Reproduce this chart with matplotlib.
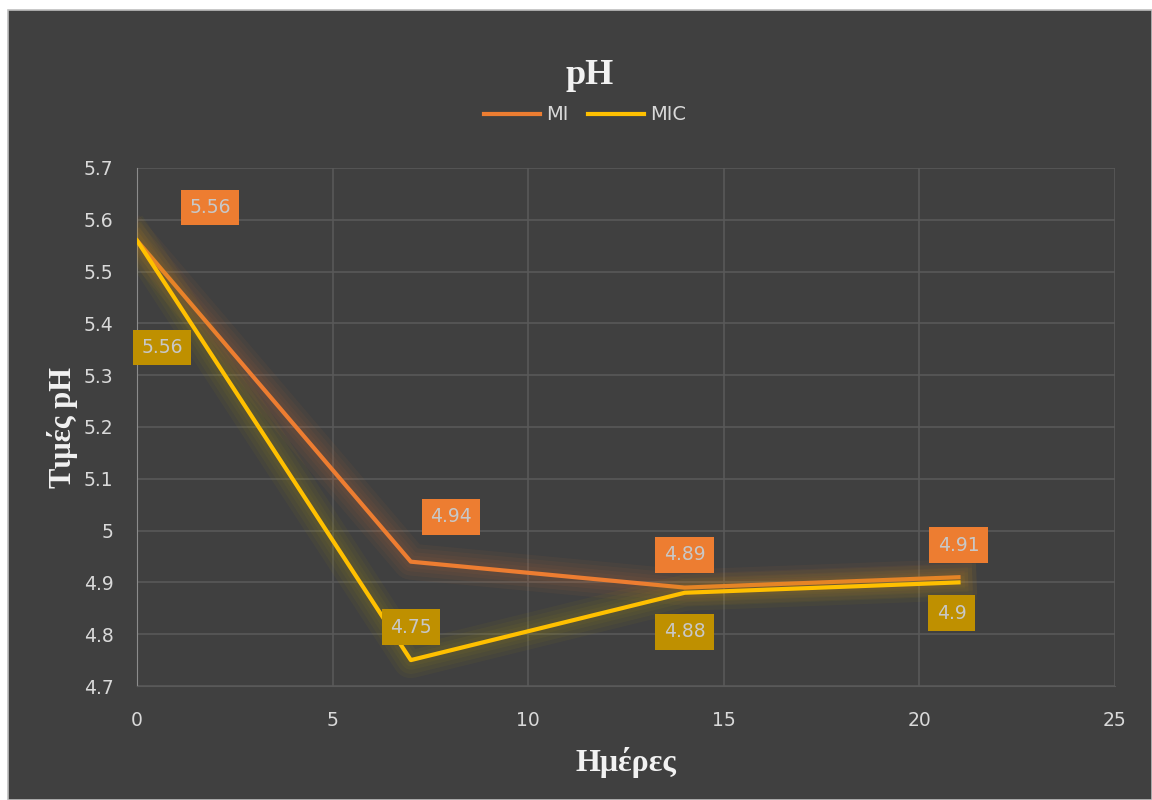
import matplotlib.pyplot as plt
import matplotlib.patheffects as pe
from matplotlib.patches import Rectangle
from matplotlib.ticker import FuncFormatter, MultipleLocator

# data
days = [0, 7, 14, 21]
mi = [5.56, 4.94, 4.89, 4.91]
mic = [5.56, 4.75, 4.88, 4.90]

# label offsets in pixels (dx, dy), screen up is positive
mi_off = [(73, 33), (40, 45), (0, 33), (0, 32)]
mic_off = [(25, -107), (0, 33), (0, -39), (-7, -31)]

BG = '#404040'
TXT = '#d9d9d9'
GRID = '#595959'
MI_C = '#ED7D31'
MIC_C = '#FFC000'

fig = plt.figure(figsize=(11.52, 8), dpi=100, facecolor='white')
fig.patches.append(Rectangle((8 / 1152, 0), 1 - 8 / 1152, 790 / 800, transform=fig.transFigure,
                             facecolor=BG, edgecolor='#bfbfbf', linewidth=1.2, zorder=-10))

ax = fig.add_axes([137 / 1152, 1 - 686 / 800, (1115 - 137) / 1152, (686 - 168) / 800])
ax.set_facecolor(BG)
ax.set_xlim(0, 25)
ax.set_ylim(4.7, 5.7)
ax.xaxis.set_major_locator(MultipleLocator(5))
ax.yaxis.set_major_locator(MultipleLocator(0.1))
ax.yaxis.set_major_formatter(FuncFormatter(lambda v, p: '%g' % round(v, 2)))
ax.grid(True, color=GRID, linewidth=1.2)
ax.set_axisbelow(True)
for s in ax.spines.values():
    s.set_visible(False)
ax.spines['left'].set_visible(True)
ax.spines['left'].set_color('#8c8c8c')
ax.spines['bottom'].set_visible(True)
ax.spines['bottom'].set_color(GRID)
ax.tick_params(length=0, colors=TXT, labelsize=13.5)
ax.tick_params(axis='y', pad=17)
ax.tick_params(axis='x', pad=18)

# glow lines
glow_mi = [pe.Stroke(linewidth=w, foreground=MI_C, alpha=0.05) for w in (26, 20, 14, 9)] + [pe.Normal()]
glow_mic = [pe.Stroke(linewidth=w, foreground='#c8b000', alpha=0.05) for w in (26, 20, 14, 9)] + [pe.Normal()]
ax.plot(days, mi, color=MI_C, linewidth=3, label='MI', path_effects=glow_mi, zorder=3)
ax.plot(days, mic, color=MIC_C, linewidth=3, label='MIC', path_effects=glow_mic, zorder=4)

for x, y, (dx, dy) in zip(days, mi, mi_off):
    ax.annotate('%g' % y, (x, y), xytext=(dx * 0.72, dy * 0.72), textcoords='offset points',
                ha='center', va='center', fontsize=13.5, color='#c8c8c8', zorder=5,
                bbox=dict(boxstyle='square,pad=0.45', facecolor=MI_C, edgecolor='none'))
for x, y, (dx, dy) in zip(days, mic, mic_off):
    ax.annotate('%g' % y, (x, y), xytext=(dx * 0.72, dy * 0.72), textcoords='offset points',
                ha='center', va='center', fontsize=13.5, color='#c8c8c8', zorder=5,
                bbox=dict(boxstyle='square,pad=0.45', facecolor='#BF9000', edgecolor='none'))

fig.text(590 / 1152, 1 - 75 / 800, 'pH', ha='center', va='center', fontsize=26,
         fontweight='bold', family='Liberation Serif', color='#f2f2f2')
ax.set_xlabel('Ημέρες', fontsize=23, fontweight='bold', family='Liberation Serif', color='#f2f2f2', labelpad=12)
ax.set_ylabel('Τιμές pH', fontsize=22, fontweight='bold', family='Liberation Serif', color='#f2f2f2')
ax.yaxis.set_label_coords(-59 / 978, 0.5)

leg = fig.legend(loc='center', bbox_to_anchor=(585 / 1152, 1 - 115 / 800), ncol=2, frameon=False,
                 fontsize=14, labelcolor=TXT, handlelength=2.9, columnspacing=1.0, handletextpad=0.3)
for h in leg.legend_handles:
    h.set_path_effects([])

fig.savefig('out.png', dpi=100, facecolor='white')
